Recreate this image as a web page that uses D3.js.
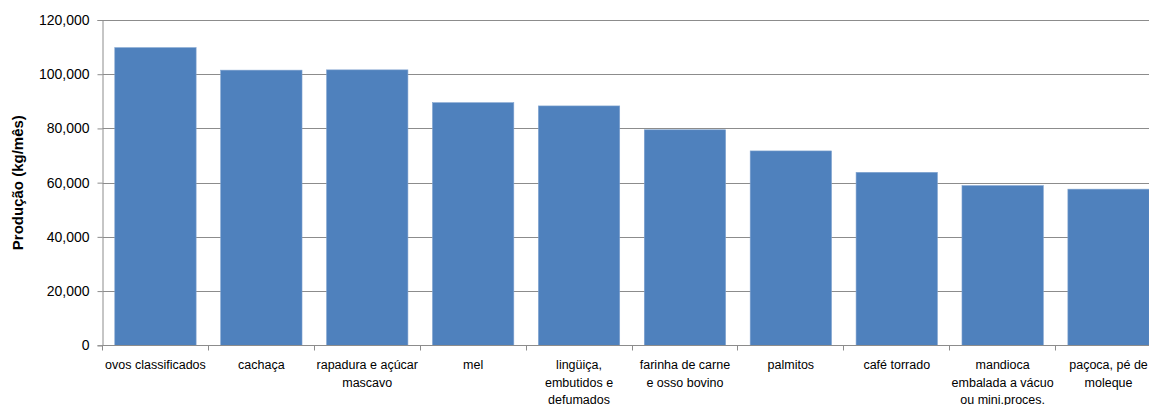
<!DOCTYPE html>
<html>
<head>
<meta charset="utf-8">
<script src="https://cdn.jsdelivr.net/npm/d3@7"></script>
<style>
  html, body { margin: 0; padding: 0; background: #fff; overflow: hidden; }
  svg { display: block; font-family: "Liberation Sans", Arial, sans-serif; }
</style>
</head>
<body>
<svg id="chart" width="1149" height="405"></svg>
<script>
// Production per product (kg/month); "\n" marks a line break in the axis label
const categories = [
  "ovos classificados",
  "cachaça",
  "rapadura e açúcar\nmascavo",
  "mel",
  "lingüiça,\nembutidos e\ndefumados",
  "farinha de carne\ne osso bovino",
  "palmitos",
  "café torrado",
  "mandioca\nembalada a vácuo\nou mini.proces.",
  "paçoca, pé de\nmoleque"
];
const values = [109800, 101500, 101600, 89500, 88300, 79500, 71700, 63800, 58900, 57600];
const yTicks = [0, 20000, 40000, 60000, 80000, 100000, 120000];
const yTitle = "Produção (kg/mês)";

const svg = d3.select("#chart");
// the plot area runs a little past the right edge of the page
const plotLeft = 102.5, plotRight = 1161.5;
const plotTop = 20, plotBottom = 345.3;

const xOuter = d3.scaleBand().domain(categories).range([plotLeft, plotRight]);

const x = d3.scaleBand()
  .domain(categories)
  .range([plotLeft, plotRight])
  .paddingInner(0.232)
  .paddingOuter(0.116);

const y = d3.scaleLinear().domain([0, 120000]).range([plotBottom, plotTop]);

// horizontal gridlines
svg.append("g")
  .selectAll("line")
  .data(yTicks.filter(d => d > 0))
  .join("line")
  .attr("x1", plotLeft).attr("x2", plotRight)
  .attr("y1", d => Math.round(y(d)) + 0.5).attr("y2", d => Math.round(y(d)) + 0.5)
  .attr("stroke", "#8c8c8c").attr("stroke-width", 1);

// bars
svg.append("g")
  .selectAll("rect")
  .data(values)
  .join("rect")
  .attr("x", (d, i) => x(categories[i]))
  .attr("width", x.bandwidth())
  .attr("y", d => y(d))
  .attr("height", d => plotBottom - y(d))
  .attr("fill", "#4f81bd")
  .attr("stroke", "#7fa2cf").attr("stroke-width", 0.6);

// y axis
const yAxis = d3.axisLeft(y)
  .tickValues(yTicks)
  .tickSize(5)
  .tickPadding(8)
  .tickFormat(d3.format(","));
const gy = svg.append("g")
  .attr("transform", `translate(${plotLeft},0)`)
  .call(yAxis);
gy.select(".domain").attr("stroke", "#8c8c8c");
gy.selectAll(".tick line").attr("stroke", "#8c8c8c");
gy.selectAll(".tick text")
  .attr("fill", "#000")
  .style("font-size", "14px");

// x axis baseline and tick marks between categories
const gx = svg.append("g").attr("transform", `translate(0,${Math.round(plotBottom) + 0.5})`);
gx.append("line")
  .attr("x1", plotLeft).attr("x2", plotRight)
  .attr("stroke", "#8c8c8c");
gx.selectAll("line.tk")
  .data(categories.concat([null]))
  .join("line")
  .attr("class", "tk")
  .attr("x1", (d, i) => Math.floor(i < categories.length ? xOuter(d) : plotRight) + 0.5)
  .attr("x2", (d, i) => Math.floor(i < categories.length ? xOuter(d) : plotRight) + 0.5)
  .attr("y1", 0).attr("y2", 5)
  .attr("stroke", "#8c8c8c");

// category labels
const labels = svg.append("g")
  .selectAll("text")
  .data(categories)
  .join("text")
  .attr("x", d => xOuter(d) + xOuter.bandwidth() / 2)
  .attr("y", 369)
  .attr("text-anchor", "middle")
  .style("font-size", "12.5px")
  .attr("fill", "#000");
labels.each(function(d) {
  const t = d3.select(this);
  d.split("\n").forEach((line, k) => {
    t.append("tspan")
      .attr("x", xOuter(d) + xOuter.bandwidth() / 2)
      .attr("dy", k === 0 ? 0 : 17.5)
      .text(line);
  });
});

// y axis title
svg.append("text")
  .attr("transform", `translate(23,${(plotBottom + plotTop) / 2}) rotate(-90)`)
  .attr("text-anchor", "middle")
  .style("font-size", "15px")
  .style("font-weight", "bold")
  .text(yTitle);
</script>
</body>
</html>
